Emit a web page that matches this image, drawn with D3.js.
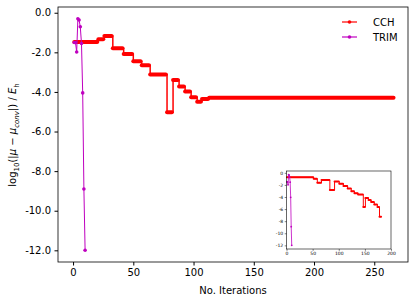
<!DOCTYPE html>
<html>
<head>
<meta charset="utf-8">
<script src="https://cdn.jsdelivr.net/npm/d3@7"></script>
<style>
  body { margin: 0; background: #fff; }
  text { font-family: "DejaVu Sans", sans-serif; }
</style>
</head>
<body>
<svg id="chart" width="416" height="302"></svg>
<script>
// CCH: constant runs, [start iteration, log10 error]; last run ends at cchEnd
const cchStart = [1, 21, 26, 33, 42, 50, 57, 64, 78, 83, 88, 93, 98, 103, 107, 113];
const cchValue = [-1.48, -1.34, -1.18, -1.79, -2.08, -2.45, -2.65, -3.12, -5.03, -3.40, -3.72, -3.98, -4.27, -4.49, -4.36, -4.29];
const cchEnd = 266;

// TRIM: one point per iteration
const trimIter = [1, 2, 3, 4, 5, 6, 7, 8, 9, 10];
const trimValue = [-1.5, -1.5, -1.98, -0.3, -0.37, -0.71, -1.55, -4.05, -8.9, -12.0];

// inset CCH runs
const insetStart = [1, 52, 59, 67, 83, 92, 101, 109, 117, 124, 130, 137, 147, 151, 157, 162, 168, 174, 178];
const insetValue = [-0.72, -1.0, -1.65, -1.2, -2.85, -1.45, -1.8, -2.18, -2.6, -3.05, -3.38, -3.6, -5.65, -4.15, -4.5, -4.82, -5.25, -5.65, -7.25];
const insetEnd = 181;

const xTicks = [0, 50, 100, 150, 200, 250];
const yTicks = [0, -2, -4, -6, -8, -10, -12];
const insetXTicks = [0, 50, 100, 150, 200];
const insetYTicks = [0, -2, -4, -6, -8, -10, -12];

const RED = "#ff0000", MAG = "#bf00bf";

const svg = d3.select("#chart");

// main axes
const x = d3.scaleLinear().domain([-12.5, 278]).range([58, 408]);
const y = d3.scaleLinear().domain([-12.59, 0.29]).range([262, 7]);

function runs(starts, values, end) {
  return starts.map((s, i) => ({ s: s, e: i < starts.length - 1 ? starts[i + 1] - 1 : end, v: values[i] }));
}

function drawCCH(g, xs, ys, starts, values, end, thick, thin) {
  const r = runs(starts, values, end);
  const pts = r.map(d => [d.s, d.v]).concat([[end, values[values.length - 1]]]);
  g.append("path")
    .attr("d", d3.line().x(d => xs(d[0])).y(d => ys(d[1])).curve(d3.curveStepAfter)(pts))
    .attr("fill", "none").attr("stroke", RED).attr("stroke-width", thin);
  g.selectAll(null).data(r).join("line")
    .attr("x1", d => xs(d.s)).attr("x2", d => xs(d.e))
    .attr("y1", d => ys(d.v)).attr("y2", d => ys(d.v))
    .attr("stroke", RED).attr("stroke-width", thick).attr("stroke-linecap", "round");
}

function drawTRIM(g, xs, ys, rad, lw) {
  const pts = trimIter.map((t, i) => [t, trimValue[i]]);
  g.append("path")
    .attr("d", d3.line().x(d => xs(d[0])).y(d => ys(d[1]))(pts))
    .attr("fill", "none").attr("stroke", MAG).attr("stroke-width", lw);
  g.selectAll(null).data(pts).join("circle")
    .attr("cx", d => xs(d[0])).attr("cy", d => ys(d[1])).attr("r", rad)
    .attr("fill", MAG);
}

const main = svg.append("g");
drawCCH(main, x, y, cchStart, cchValue, cchEnd, 4, 1.5);
drawTRIM(main, x, y, 1.8, 1);

// main frame + ticks
svg.append("rect").attr("x", 58).attr("y", 7).attr("width", 350).attr("height", 255)
  .attr("fill", "none").attr("stroke", "#000").attr("stroke-width", 0.8);

const fmt = d => d.toFixed(1);
svg.append("g").attr("transform", "translate(0,262)")
  .call(d3.axisBottom(x).tickValues(xTicks).tickSize(3.5).tickPadding(3.5))
  .call(g => g.select(".domain").remove())
  .call(g => g.selectAll("text").attr("font-size", 10).attr("fill", "#000").style("font-family", "DejaVu Sans"));
svg.append("g").attr("transform", "translate(58,0)")
  .call(d3.axisLeft(y).tickValues(yTicks).tickFormat(fmt).tickSize(3.5).tickPadding(3.5))
  .call(g => g.select(".domain").remove())
  .call(g => g.selectAll("text").attr("font-size", 10).attr("fill", "#000").style("font-family", "DejaVu Sans"));

svg.append("text").attr("x", 233).attr("y", 294).attr("text-anchor", "middle")
  .attr("font-size", 10).text("No. Iterations");

const yl = svg.append("text").attr("transform", "translate(16,135) rotate(-90)")
  .attr("text-anchor", "middle").attr("font-size", 10);
yl.append("tspan").text("log");
yl.append("tspan").attr("font-size", 7).attr("dy", 2.5).text("10");
yl.append("tspan").attr("dy", -2.5).text("(|");
yl.append("tspan").attr("font-style", "italic").text("μ");
yl.append("tspan").text(" − ");
yl.append("tspan").attr("font-style", "italic").text("μ");
yl.append("tspan").attr("font-size", 7).attr("font-style", "italic").attr("dy", 2.5).text("conv");
yl.append("tspan").attr("dy", -2.5).text("|) / ");
yl.append("tspan").attr("font-style", "italic").text("E");
yl.append("tspan").attr("font-size", 7).attr("dy", 2.5).text("h");

// legend
const legend = [{ name: "CCH", c: RED, yy: 22 }, { name: "TRIM", c: MAG, yy: 37 }];
const lg = svg.append("g");
lg.selectAll(null).data(legend).join("line")
  .attr("x1", 342).attr("x2", 357).attr("y1", d => d.yy).attr("y2", d => d.yy)
  .attr("stroke", d => d.c).attr("stroke-width", 1.2);
lg.selectAll(null).data(legend).join("circle")
  .attr("cx", 349.5).attr("cy", d => d.yy).attr("r", 1.8).attr("fill", d => d.c);
lg.selectAll(null).data(legend).join("text")
  .attr("x", 373).attr("y", d => d.yy + 3.6).attr("font-size", 10).text(d => d.name);

// inset
const xi = d3.scaleLinear().domain([0, 200]).range([286.5, 391]);
const yi = d3.scaleLinear().domain([-12.6, 0.3]).range([249, 171]);
svg.append("rect").attr("x", 286.5).attr("y", 171).attr("width", 104.5).attr("height", 78)
  .attr("fill", "#fff");
const ins = svg.append("g");
drawCCH(ins, xi, yi, insetStart, insetValue, insetEnd, 2, 1);
drawTRIM(ins, xi, yi, 0.9, 0.8);
svg.append("rect").attr("x", 286.5).attr("y", 171).attr("width", 104.5).attr("height", 78)
  .attr("fill", "none").attr("stroke", "#000").attr("stroke-width", 0.6);
svg.append("g").attr("transform", "translate(0,249)")
  .call(d3.axisBottom(xi).tickValues(insetXTicks).tickSize(1.8).tickPadding(1.5))
  .call(g => g.select(".domain").remove())
  .call(g => g.selectAll("line").attr("stroke-width", 0.5))
  .call(g => g.selectAll("text").attr("font-size", 4.5).attr("fill", "#000").style("font-family", "DejaVu Sans"));
svg.append("g").attr("transform", "translate(286.5,0)")
  .call(d3.axisLeft(yi).tickValues(insetYTicks).tickFormat(d => String(d)).tickSize(1.8).tickPadding(1.5))
  .call(g => g.select(".domain").remove())
  .call(g => g.selectAll("line").attr("stroke-width", 0.5))
  .call(g => g.selectAll("text").attr("font-size", 4.5).attr("fill", "#000").style("font-family", "DejaVu Sans"));
</script>
</body>
</html>
